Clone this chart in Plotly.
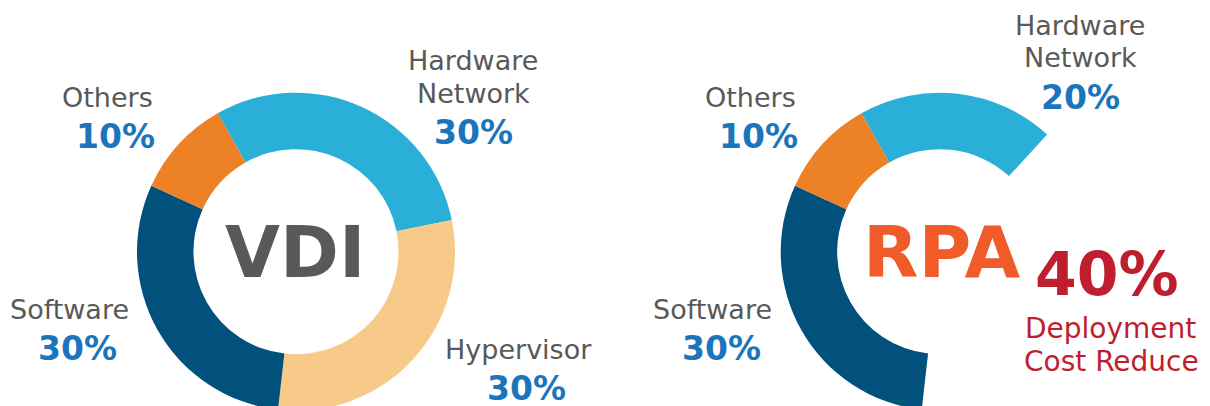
import plotly.graph_objects as go

W, H = 1210, 406
OFF = 8  # page body margin: figure is drawn 8px right/down of the window corner

# ---- data ----
vdi_labels = ["Hardware Network", "Hypervisor", "Software", "Others"]
vdi_values = [30, 30, 30, 10]
vdi_colors = ["#29AFD8", "#F7CA8A", "#02507C", "#EC8125"]

rpa_labels = ["Hardware Network", "Deployment Cost Reduce", "Software", "Others"]
rpa_values = [20, 40, 30, 10]
rpa_colors = ["#29AFD8", "rgba(0,0,0,0)", "#02507C", "#EC8125"]

# label anchor positions in window pixels (centre x, centre y of the first line)
vdi_label_pos = {"Hardware Network": (473, 60), "Hypervisor": (518, 349),
                 "Software": (69, 309), "Others": (107, 97)}
rpa_label_pos = {"Hardware Network": (1080, 25), "Software": (713, 309),
                 "Others": (750, 97)}

GRAY = "#595959"
BLUE = "#1B75BC"
RED = "#BE1E2D"
FONT = "DejaVu Sans"

R = 159
HOLE = 0.645
CY = 251.7 - OFF


def dom(cx):
    cx -= OFF
    return dict(x=[(cx - R) / W, (cx + R) / W],
                y=[(H - (CY + R)) / H, (H - (CY - R)) / H])


fig = go.Figure()
fig.add_trace(go.Pie(labels=vdi_labels, values=vdi_values, sort=False,
                     direction="clockwise", rotation=-29.5, hole=HOLE,
                     marker=dict(colors=vdi_colors, line=dict(width=0)),
                     textinfo="none", hoverinfo="skip", domain=dom(296)))
fig.add_trace(go.Pie(labels=rpa_labels, values=rpa_values, sort=False,
                     direction="clockwise", rotation=-29.5, hole=HOLE,
                     marker=dict(colors=rpa_colors, line=dict(width=0)),
                     textinfo="none", hoverinfo="skip", domain=dom(939.7)))

annotations = []


def add_text(text, px, py, size, color, bold=False):
    annotations.append(dict(
        text=f"<b>{text}</b>" if bold else text,
        x=(px - OFF) / W, y=1 - (py - OFF) / H, xref="paper", yref="paper",
        xanchor="center", yanchor="middle", showarrow=False,
        font=dict(family=FONT, size=size, color=color)))


def add_label(name, value, pos):
    px, py = pos
    lines = name.split(" ")
    for i, ln in enumerate(lines):
        add_text(ln, px, py + 33 * i, 27, GRAY)
    add_text(f"{value}%", px + (8 if len(lines) == 1 else 0),
             py + 33 * (len(lines) - 1) + 39, 33, BLUE, bold=True)


for n, v in zip(vdi_labels, vdi_values):
    add_label(n, v, vdi_label_pos[n])
for n, v in zip(rpa_labels, rpa_values):
    if n in rpa_label_pos:
        add_label(n, v, rpa_label_pos[n])

add_text("VDI", 295, 252, 71, "#58595B", bold=True)
add_text("RPA", 942, 252, 72, "#F15A29", bold=True)
add_text(f"{rpa_values[1]}%", 1107, 274, 60, RED, bold=True)
add_text("Deployment", 1110, 328, 28, RED)
add_text("Cost Reduce", 1111, 361, 28, RED)

fig.update_layout(width=W, height=H, margin=dict(l=0, r=0, t=0, b=0),
                  paper_bgcolor="white", plot_bgcolor="white",
                  showlegend=False, annotations=annotations)

fig.write_html("out.html")
